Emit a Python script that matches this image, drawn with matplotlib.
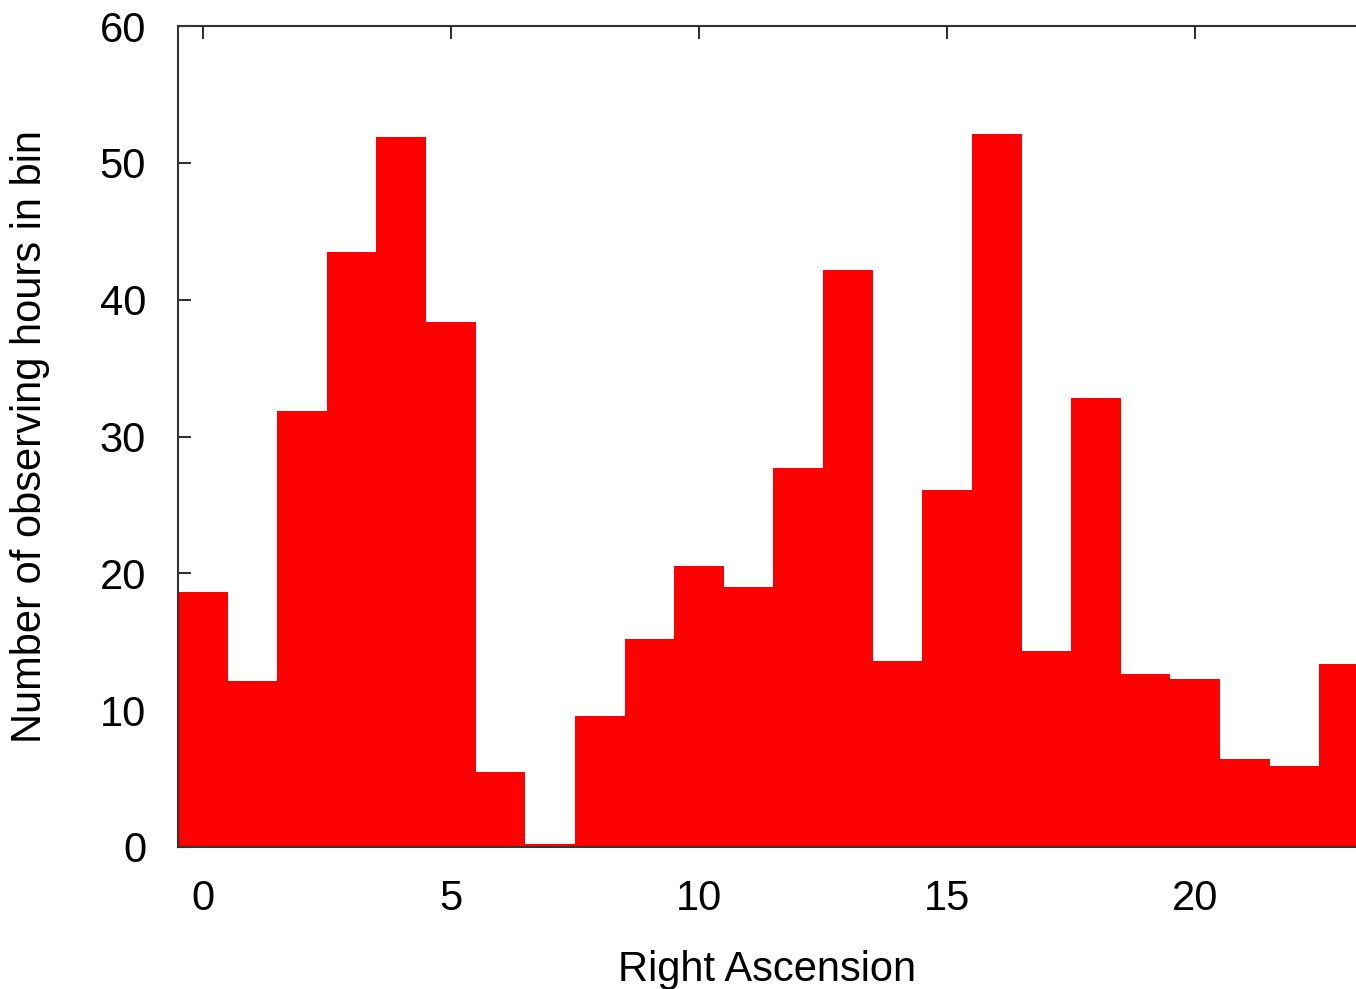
import matplotlib.pyplot as plt

# Hours of observing per 1-hour right ascension bin
ra_bins = list(range(24))
hours = [18.6, 12.1, 31.9, 43.5, 51.9, 38.4, 5.5, 0.25, 9.6, 15.2,
         20.5, 19.0, 27.7, 42.2, 13.6, 26.1, 52.1, 14.3, 32.8, 12.65,
         12.25, 6.45, 5.95, 13.4]
xticks = [0, 5, 10, 15, 20]
yticks = [0, 10, 20, 30, 40, 50, 60]

plt.rcParams["font.family"] = ["Liberation Sans", "DejaVu Sans"]

fig = plt.figure(figsize=(13.56, 9.89), dpi=100)
ax = fig.add_axes([178 / 1356, 1 - 847 / 989, 1 - 178 / 1356, (847 - 26) / 989])

ax.bar(ra_bins, hours, width=1.0, color="#ff0000", edgecolor="none", zorder=1)
ax.set_axisbelow(True)  # bars hide the ticks, like gnuplot

ax.set_xlim(-0.5, 23.24)
ax.set_ylim(0, 60)
ax.set_xticks(xticks)
ax.set_yticks(yticks)

for side in ["left", "top", "bottom"]:
    ax.spines[side].set_color("#333333")
    ax.spines[side].set_linewidth(1.5)
    ax.spines[side].set_zorder(3)
ax.spines["right"].set_visible(False)

ax.tick_params(axis="both", direction="in", length=9, width=1.5, color="#333333",
               labelsize=30, top=True, right=False)
ax.tick_params(axis="x", pad=23)
ax.tick_params(axis="y", pad=23)

ax.set_xlabel("Right Ascension", fontsize=30, labelpad=22)
ax.set_ylabel("Number of observing hours in bin", fontsize=30, labelpad=36)

fig.savefig("out.png", dpi=100)
